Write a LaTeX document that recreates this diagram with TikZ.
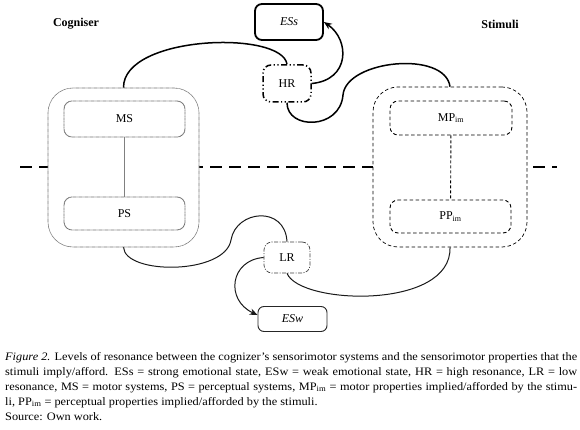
\documentclass[tikz,border=0pt]{standalone}
\usepackage{fontspec}
\setmainfont{Liberation Serif}
\newfontfamily\capfont[FakeStretch=1.08]{Liberation Serif}
\usetikzlibrary{arrows.meta}
\begin{document}
\begin{tikzpicture}[x=1pt,y=-1pt,
  lbl/.style={font=\fontsize{12}{14}\selectfont, inner sep=0pt},
  head/.style={font=\fontsize{12}{14}\selectfont\bfseries},
  cogbox/.style={draw=black!55, line width=0.6pt, dash pattern=on 0.8pt off 0.4pt, rounded corners=25pt, fill=white},
  cogsub/.style={draw=black!55, line width=0.9pt, dash pattern=on 0.8pt off 0.4pt, rounded corners=8pt, fill=white, lbl},
  stimbox/.style={draw=black, line width=0.7pt, dash pattern=on 3.5pt off 2.5pt, rounded corners=25pt, fill=white},
  stimsub/.style={draw=black, line width=0.9pt, dash pattern=on 3.5pt off 2.5pt, rounded corners=8pt, fill=white, lbl},
  hrbox/.style={draw=black, line width=1.5pt, dash pattern=on 6pt off 2.5pt on 1.2pt off 2.5pt on 1.2pt off 2.5pt, rounded corners=8pt, fill=white, lbl},
  lrbox/.style={draw=black!75, line width=0.7pt, dash pattern=on 4pt off 1.5pt on 1pt off 1.5pt, rounded corners=8pt, fill=white, lbl},
  esbox/.style={draw=black, rounded corners=7pt, fill=white, lbl, font=\fontsize{12}{14}\selectfont\itshape},
  strong/.style={draw=black, line width=1.5pt},
  weak/.style={draw=black!90, line width=1pt},
  tip/.style={-{Stealth[length=8pt,width=6.5pt]}},
  hline/.style={draw=black, line width=2.6pt, dash pattern=on 12pt off 7pt}
]
\useasboundingbox (0,0) rectangle (580,430);

% horizontal divider
\coordinate (hl) at (20,167);
\coordinate (hr2) at (557,167);
\draw[hline] (hl) -- (hr2);

% headings
\node[head] (cogl) at (76,24) {Cogniser};
\node[head] (stil) at (500,24) {Stimuli};

% cogniser
\node[cogbox, minimum width=151pt, minimum height=159pt] (cog) at (123.5,167.5) {};
\node[cogsub, minimum width=121pt, minimum height=36pt] (ms) at (124.5,119) {MS};
\node[cogsub, minimum width=121pt, minimum height=33pt] (ps) at (124.5,213.5) {PS};
\draw[draw=black!50, line width=0.6pt] (ms) -- (ps);

% stimuli
\node[stimbox, minimum width=154pt, minimum height=160pt] (stim) at (450,167) {};
\node[stimsub, minimum width=122pt, minimum height=34pt] (mp) at (451,118) {MP\textsubscript{im}};
\node[stimsub, minimum width=121pt, minimum height=33pt] (pp) at (450.5,216.5) {PP\textsubscript{im}};
\draw[draw=black, line width=0.9pt, dash pattern=on 3pt off 2pt] (mp) -- (pp);

% resonance nodes
\node[hrbox, minimum width=48pt, minimum height=37pt] (hr) at (287,83.5) {HR};
\node[lrbox, minimum width=46pt, minimum height=31pt] (lr) at (287,257.5) {LR};

% emotional states
\node[esbox, line width=1.8pt, minimum width=68pt, minimum height=36pt] (ess) at (289,22) {ESs};
\node[esbox, line width=0.9pt, draw=black!85, rounded corners=6pt, minimum width=69pt, minimum height=25pt] (esw) at (292.5,319) {ESw};

% connectors
\coordinate (hrmid) at (343,95);
\coordinate (lrmid) at (231,240);
\draw[strong] (cog.north) .. controls (123,35) and (282,30) .. (hr.north);
\draw[strong, tip] (hr.east) .. controls (350,80) and (350,40) .. (ess.east);
\draw[strong] (hr.south) .. controls (287,130) and (340,130) .. (hrmid)
              .. controls (346,60) and (445,50) .. (stim.north);
\draw[weak] (cog.south) .. controls (125,275) and (225,275) .. (lrmid)
            .. controls (236,210) and (285,205) .. (lr.north);
\draw[weak, tip] (lr.west) .. controls (230,260) and (225,300) .. ([yshift=4pt]esw.west);
\draw[weak] (lr.south) .. controls (300,305) and (452,310) .. (stim.south);

% caption
\node[anchor=north west, inner sep=0pt, text width=572pt, align=justify,
      font=\capfont\fontsize{11.4}{15}\selectfont] (cap) at (5,352)
{\hyphenpenalty=10000\exhyphenpenalty=10000%
\textit{Figure 2.} Levels of resonance between the cognizer’s sensorimotor systems and the sensorimotor properties that the\linebreak
stimuli imply/afford. ESs = strong emotional state, ESw = weak emotional state, HR = high resonance, LR = low\linebreak
resonance, MS = motor systems, PS = perceptual systems, MP\textsubscript{im} = motor properties implied/afforded by the stimu-\linebreak
li, PP\textsubscript{im} = perceptual properties implied/afforded by the stimuli.\\
Source: Own work.};
\end{tikzpicture}
\end{document}
